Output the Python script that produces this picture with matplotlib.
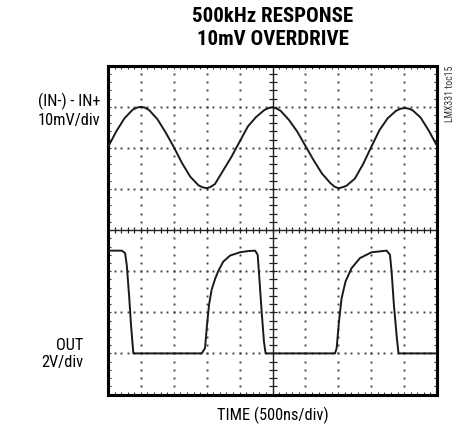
import numpy as np
import matplotlib
matplotlib.use("Agg")
import matplotlib.pyplot as plt
from matplotlib import font_manager as fm

# Trace data (divisions: x 0..10, y -4..4)
in_x = [0.0, 0.25, 0.5, 0.75, 0.88, 1.0, 1.12, 1.25, 1.5, 1.75, 2.0, 2.25, 2.5,
        2.75, 2.88, 3.0, 3.12, 3.25, 3.5, 3.75, 4.0, 4.25, 4.5, 4.75, 4.88,
        5.0, 5.12, 5.25, 5.5, 5.75, 6.0, 6.25, 6.5, 6.75, 6.88, 7.0, 7.12,
        7.25, 7.5, 7.75, 8.0, 8.25, 8.5, 8.75, 8.88, 9.0, 9.12, 9.25, 9.5,
        9.75, 10.0]
in_y = [2.02, 2.40, 2.72, 2.93, 2.98, 3.00, 2.98, 2.92, 2.70, 2.38, 2.02, 1.63,
        1.30, 1.09, 1.04, 1.02, 1.05, 1.12, 1.45, 1.78, 2.15, 2.52, 2.75, 2.92,
        2.97, 2.99, 2.96, 2.90, 2.68, 2.40, 2.05, 1.70, 1.38, 1.15, 1.06, 1.02,
        1.04, 1.08, 1.25, 1.60, 2.02, 2.43, 2.72, 2.90, 2.95, 2.97, 2.96, 2.92,
        2.74, 2.42, 2.05]

out_x = [0.0, 0.42, 0.52, 0.57, 0.64, 0.70, 0.77, 2.85, 2.95, 3.00, 3.07, 3.15,
         3.25, 3.35, 3.50, 3.71, 4.01, 4.26, 4.47, 4.55, 4.60, 4.67, 4.74, 4.79,
         6.90, 6.95, 7.02, 7.10, 7.22, 7.40, 7.66, 8.01, 8.47, 8.57, 8.62, 8.69,
         8.78, 8.83, 10.0]
out_y = [-0.50, -0.50, -0.56, -0.85, -1.58, -2.31, -3.00, -3.00, -2.87, -2.39,
         -1.82, -1.45, -1.20, -1.00, -0.77, -0.62, -0.54, -0.51, -0.50, -0.60,
         -1.17, -1.98, -2.71, -3.00, -3.00, -2.87, -2.23, -1.66, -1.25, -0.93,
         -0.68, -0.54, -0.50, -0.60, -1.01, -1.82, -2.63, -3.00, -3.00]


def pick_narrow():
    # look for any condensed/narrow face that is installed
    names = {f.name for f in fm.fontManager.ttflist}
    for cand in ["Liberation Sans Narrow", "Roboto Condensed",
                 "Open Sans Condensed", "DejaVu Sans Condensed",
                 "Noto Sans Condensed"]:
        if cand in names:
            return cand, "normal"
    for f in fm.fontManager.ttflist:
        if f.stretch in ("condensed", "semi-condensed", "extra-condensed"):
            return f.name, f.stretch
    return "Liberation Sans", "normal"


NARROW, STRETCH = pick_narrow()

fig = plt.figure(figsize=(4.57, 4.29), dpi=100)
ax = fig.add_axes([108 / 457, 1 - 394.5 / 429, 329 / 457, 328.8 / 429])
ax.set_xlim(0, 10)
ax.set_ylim(-4, 4)

# dotted graticule
minor_x = np.arange(0, 10.01, 0.2)
minor_y = np.arange(-4, 4.01, 0.2)
for gx in range(1, 10):
    if gx == 5:
        continue
    ax.plot(np.full_like(minor_y, gx), minor_y, ls="none", marker="s",
            ms=1.4, mew=0, color="#444444", zorder=1)
for gy in range(-3, 4):
    if gy == 0:
        continue
    ax.plot(minor_x, np.full_like(minor_x, gy), ls="none", marker="s",
            ms=1.4, mew=0, color="#444444", zorder=1)

# centre axes with cross ticks
ax.axhline(0, color="#222222", lw=1.0, zorder=2)
ax.axvline(5, color="#222222", lw=1.0, zorder=2)
ax.plot(minor_x, np.zeros_like(minor_x), ls="none", marker="|", ms=5,
        mew=0.9, color="#222222", zorder=2)
ax.plot(np.full_like(minor_y, 5), minor_y, ls="none", marker="_", ms=6,
        mew=0.9, color="#222222", zorder=2)

# traces
ax.plot(in_x, in_y, color="#1a1a1a", lw=1.4, zorder=3, solid_joinstyle="round")
ax.plot(out_x, out_y, color="#1a1a1a", lw=1.4, zorder=3, solid_joinstyle="round")

ax.set_xticks(np.arange(0, 11, 1))
ax.set_yticks(np.arange(-4, 5, 1))
ax.set_xticks(minor_x, minor=True)
ax.set_yticks(minor_y, minor=True)
ax.tick_params(which="both", direction="in", length=2.5, width=0.8,
               color="#333333", top=True, right=True,
               labelbottom=False, labelleft=False)
for s in ax.spines.values():
    s.set_linewidth(2.2)
    s.set_color("black")

# texts
tkw = dict(family=[NARROW, "DejaVu Sans"], fontstretch=STRETCH)
fig.text(273 / 457, 1 - 16 / 429, "500kHz RESPONSE", ha="center", va="center",
         fontsize=15, fontweight="bold", **tkw)
fig.text(273 / 457, 1 - 39.5 / 429, "10mV OVERDRIVE", ha="center", va="center",
         fontsize=15, fontweight="bold", **tkw)
fig.text(100 / 457, 1 - 101 / 429, "(IN-) - IN+", ha="right", va="center",
         fontsize=11.8, **tkw)
fig.text(100 / 457, 1 - 120 / 429, "10mV/div", ha="right", va="center",
         fontsize=11.8, **tkw)
fig.text(83 / 457, 1 - 345 / 429, "OUT", ha="right", va="center",
         fontsize=11.8, **tkw)
fig.text(83 / 457, 1 - 363 / 429, "2V/div", ha="right", va="center",
         fontsize=11.8, **tkw)
fig.text(273 / 457, 1 - 415 / 429, "TIME (500ns/div)", ha="center",
         va="center", fontsize=11.8, **tkw)
fig.text(450 / 457, 1 - 66 / 429, "LMX331 toc15", ha="center", va="top",
         rotation=90, fontsize=7, color="#333333", **tkw)

fig.savefig("out.png", dpi=100)
